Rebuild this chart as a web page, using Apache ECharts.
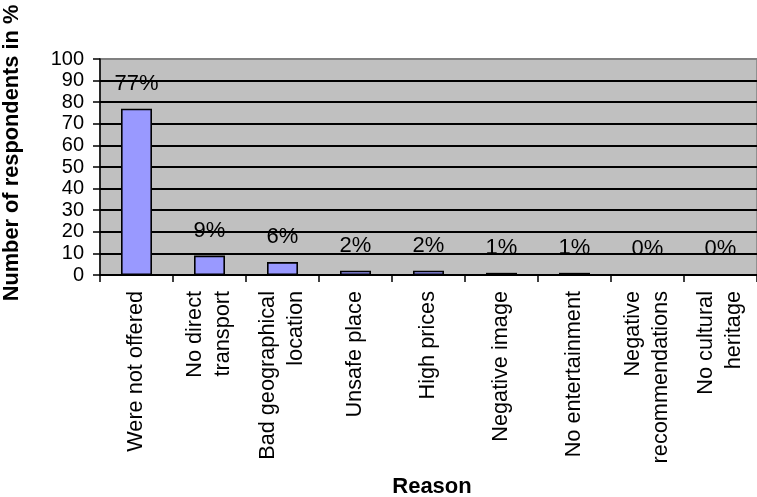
<!DOCTYPE html>
<html>
<head>
<meta charset="utf-8">
<script src="https://cdn.jsdelivr.net/npm/echarts@6/dist/echarts.min.js"></script>
<style>
  html, body { margin: 0; padding: 0; background: #ffffff; }
  #chart { width: 757px; height: 497px; }
</style>
</head>
<body>
<div id="chart"></div>
<script>
// Reasons given by respondents, with share of respondents (%)
const reasons = [
  'Were not offered',
  'No direct\ntransport',
  'Bad geographical\nlocation',
  'Unsafe place',
  'High prices',
  'Negative image',
  'No entertainment',
  'Negative\nrecommendations',
  'No cultural\nheritage'
];
const shares = [77, 9, 6, 2, 2, 1, 1, 0, 0];
const yTicks = [0, 10, 20, 30, 40, 50, 60, 70, 80, 90, 100];

const FONT = '"Liberation Sans", Arial, sans-serif';

// gridlines black, the top one grey like the plot border
const gridColors = yTicks.map((v, i) => (i === yTicks.length - 1 ? '#808080' : '#000000'));

const chart = echarts.init(document.getElementById('chart'), null, { renderer: 'canvas' });

chart.setOption({
  animation: false,
  backgroundColor: '#ffffff',
  grid: {
    left: 100,
    top: 59,
    right: -5,
    bottom: 222,
    show: true,
    backgroundColor: '#c0c0c0',
    borderColor: '#808080',
    borderWidth: 1.5
  },
  xAxis: {
    type: 'category',
    data: reasons,
    axisLine: { show: true, lineStyle: { color: '#000', width: 1.5 } },
    axisTick: { show: true, length: 7, lineStyle: { color: '#000', width: 1.5 } },
    axisLabel: {
      rotate: 90,
      interval: 0,
      margin: 16,
      fontFamily: FONT,
      fontSize: 21.7,
      lineHeight: 28,
      color: '#000'
    },
    splitLine: { show: false }
  },
  yAxis: {
    type: 'value',
    min: yTicks[0],
    max: yTicks[yTicks.length - 1],
    interval: 10,
    axisLine: { show: true, lineStyle: { color: '#000', width: 1.5 } },
    axisTick: { show: true, length: 7, lineStyle: { color: '#000', width: 1.5 } },
    axisLabel: {
      margin: 16,
      fontFamily: FONT,
      fontSize: 20,
      color: '#000'
    },
    splitLine: { show: true, lineStyle: { color: gridColors, width: 1.8 } }
  },
  series: [{
    type: 'bar',
    data: shares,
    barWidth: 31,
    itemStyle: { color: '#9999ff', borderColor: '#000', borderWidth: 1.6 },
    label: {
      show: true,
      position: 'top',
      distance: 14,
      formatter: '{c}%',
      fontFamily: FONT,
      fontSize: 22,
      color: '#000'
    }
  }],
  graphic: [
    {
      type: 'text',
      x: 12,
      y: 153,
      rotation: Math.PI / 2,
      style: {
        text: 'Number of respondents in %',
        fontFamily: FONT,
        fontSize: 21.8,
        fontWeight: 'bold',
        fill: '#000',
        align: 'center',
        verticalAlign: 'middle',
        textAlign: 'center',
        textVerticalAlign: 'middle'
      }
    },
    {
      type: 'text',
      x: 432,
      y: 487,
      style: {
        text: 'Reason',
        fontFamily: FONT,
        fontSize: 22,
        fontWeight: 'bold',
        fill: '#000',
        align: 'center',
        verticalAlign: 'middle',
        textAlign: 'center',
        textVerticalAlign: 'middle'
      }
    }
  ]
});
</script>
</body>
</html>
